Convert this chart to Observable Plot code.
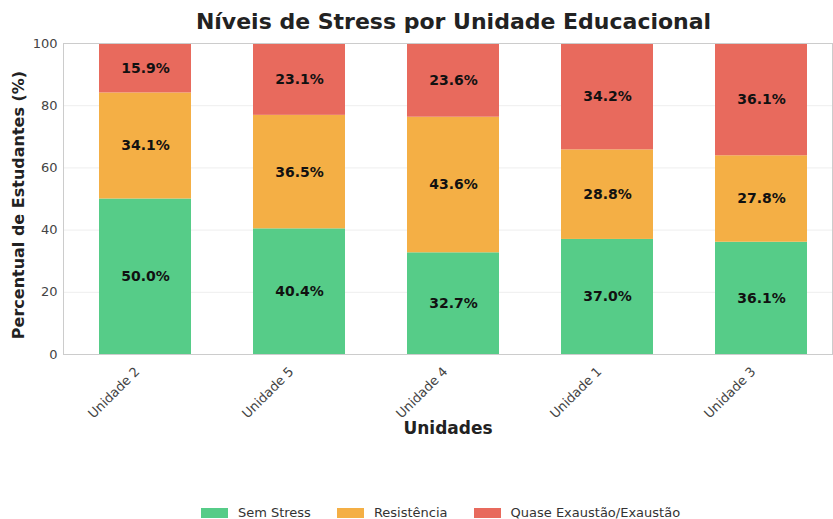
<!DOCTYPE html>
<html>
<head>
<meta charset="utf-8">
<script src="https://cdn.jsdelivr.net/npm/d3@7"></script>
<script src="https://cdn.jsdelivr.net/npm/@observablehq/plot@0.6"></script>
<style>
  body { margin: 0; background: #fff; font-family: "DejaVu Sans", sans-serif; }
  #wrap { position: relative; width: 833px; height: 519px; overflow: hidden; }
  #title { position: absolute; left: 74px; top: 8px; width: 759px; text-align: center; font-weight: bold; font-size: 22px; color: #222; line-height: 28px; }
  #chart { position: absolute; left: 0; top: 33px; }
  #legend { position: absolute; left: 48px; top: 505px; width: 785px; display: flex; justify-content: center; font-size: 13px; color: #333; }
  .item { display: flex; align-items: center; margin: 0 13px; }
  .sw { width: 27px; height: 10px; margin-right: 10px; }
</style>
</head>
<body>
<div id="wrap">
  <div id="title">Níveis de Stress por Unidade Educacional</div>
  <div id="chart"></div>
  <div id="legend"></div>
</div>
<script>
const unidades = ["Unidade 2", "Unidade 5", "Unidade 4", "Unidade 1", "Unidade 3"];
const categorias = ["Sem Stress", "Resistência", "Quase Exaustão/Exaustão"];
const semStress = [50.0, 40.4, 32.7, 37.0, 36.1];
const resistencia = [34.1, 36.5, 43.6, 28.8, 27.8];
const exaustao = [15.9, 23.1, 23.6, 34.2, 36.1];
const cores = ["#56cc88", "#f4af45", "#e86a5d"];
const yTicks = [0, 20, 40, 60, 80, 100];

const series = [semStress, resistencia, exaustao];
const data = [];
unidades.forEach((u, i) => {
  let base = 0;
  categorias.forEach((c, k) => {
    const v = series[k][i];
    data.push({unidade: u, categoria: c, valor: v, y1: base, y2: base + v, mid: base + v / 2});
    base += v;
  });
});

const W = 833, H = 460;
const chart = Plot.plot({
  width: W,
  height: H,
  marginLeft: 63,
  marginRight: 1,
  marginTop: 10,
  marginBottom: 139,
  style: {fontFamily: "DejaVu Sans, sans-serif", fontSize: "12px", color: "#444", background: "white"},
  x: {domain: unidades, range: [62, 845], paddingInner: 0.4, paddingOuter: 0.233, label: null},
  y: {domain: [0, 100], ticks: yTicks, label: null},
  color: {domain: categorias, range: cores},
  marks: [
    Plot.gridY(yTicks.slice(1, -1), {stroke: "#eee", strokeOpacity: 1}),
    Plot.rectY(data, {x: "unidade", y1: "y1", y2: "y2", fill: "categoria"}),
    Plot.frame({stroke: "#ccc", strokeWidth: 1}),
    Plot.axisY({ticks: yTicks, tickSize: 0, tickPadding: 6, fontSize: 13, fill: "#444"}),
    Plot.axisX({tickSize: 0, tickRotate: -45, textAnchor: "end", fontSize: 13, fill: "#444", dx: -8, dy: 3}),
    Plot.text(data, {x: "unidade", y: "mid", text: d => d.valor.toFixed(1) + "%", fontWeight: "bold", fontSize: 14, fill: "#111"}),
    Plot.text(["Percentual de Estudantes (%)"], {frameAnchor: "left", textAnchor: "middle", dx: -45, dy: 6, rotate: -90, fontWeight: "bold", fontSize: 16, fill: "#222", text: d => d}),
    Plot.text(["Unidades"], {frameAnchor: "bottom", dy: 79, fontWeight: "bold", fontSize: 17, fill: "#222", text: d => d})
  ]
});
document.getElementById("chart").appendChild(chart);

const legend = document.getElementById("legend");
categorias.forEach((c, k) => {
  const it = document.createElement("div");
  it.className = "item";
  it.innerHTML = `<span class="sw" style="background:${cores[k]}"></span><span>${c}</span>`;
  legend.appendChild(it);
});
</script>
</body>
</html>
